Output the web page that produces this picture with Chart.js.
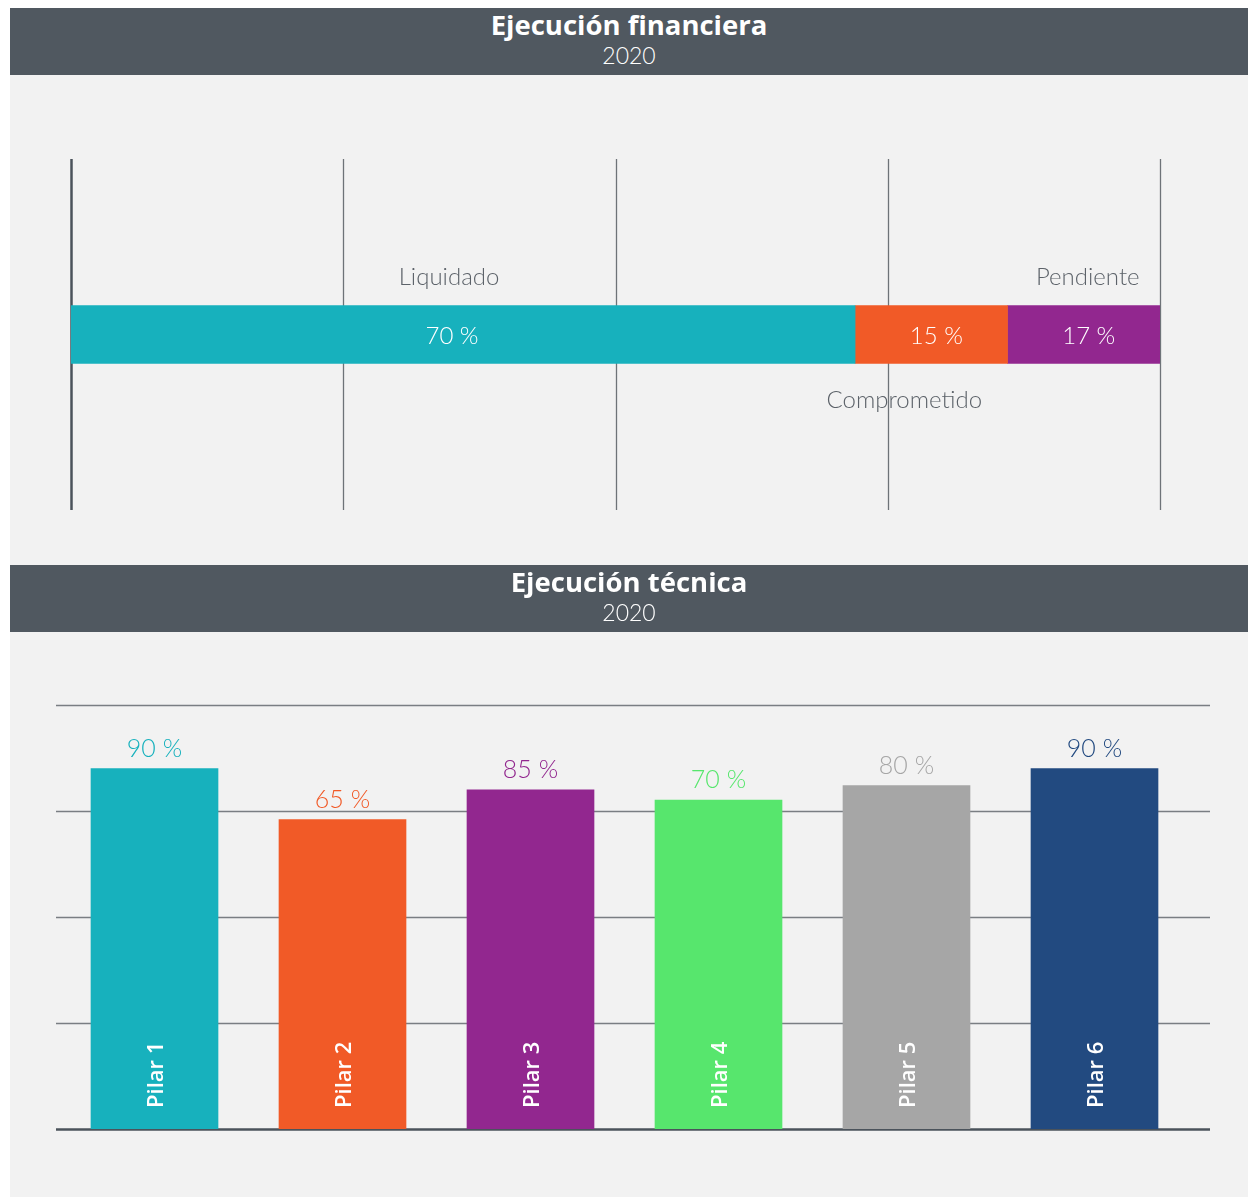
<!DOCTYPE html>
<html>
<head>
<meta charset="utf-8">
<script src="https://cdn.jsdelivr.net/npm/chart.js@4.4.1/dist/chart.umd.min.js"></script>
<style>
    body { margin: 0; background: #ffffff; font-family: Lato, 'Open Sans', sans-serif; }
    .panel { position: absolute; left: 10px; width: 1238px; background: #f2f2f2; }
    .header { position: absolute; left: 10px; width: 1238px; height: 67px; background: #505860; color: #ffffff; text-align: center; }
    .header .title { font-family: 'Open Sans', sans-serif; font-weight: 700; font-size: 27.5px; line-height: 32px; margin-top: 1px; }
    .header .year { font-size: 23px; line-height: 26px; font-weight: 300; margin-top: 1px; }
    .box { position: absolute; left: 10px; width: 1238px; }
</style>
</head>
<body>
<div class="panel" style="top:75px;height:1122px;"></div>
<div class="header" style="top:8px;"><div class="title">Ejecución financiera</div><div class="year">2020</div></div>
<div class="box" style="top:75px;height:490px;"><canvas id="finance-chart"></canvas></div>
<div class="header" style="top:565px;"><div class="title">Ejecución técnica</div><div class="year">2020</div></div>
<div class="box" style="top:632px;height:565px;"><canvas id="tech-chart"></canvas></div>

<script>
// Ejecución financiera
const financeNames = ['Liquidado', 'Comprometido', 'Pendiente'];
const financeValues = [72, 14, 14];
const financeLabels = ['70 %', '15 %', '17 %'];
const financeColors = ['#17b1bd', '#f15a27', '#92278f'];
const financeTicks = [0, 25, 50, 75, 100];

// Ejecución técnica
const pillars = ['Pilar 1', 'Pilar 2', 'Pilar 3', 'Pilar 4', 'Pilar 5', 'Pilar 6'];
const pillarValues = [85, 73, 80, 77.6, 81, 85];
const pillarLabels = ['90 %', '65 %', '85 %', '70 %', '80 %', '90 %'];
const pillarColors = ['#17b1bd', '#f15a27', '#92278f', '#57e66d', '#a6a6a6', '#224a80'];
const techTicks = [0, 25, 50, 75, 100];

const labelFont = '300 24px Lato, sans-serif';

const financeGrid = {
    id: 'financeGrid',
    beforeDatasetsDraw: function(chart) {
        const ctx = chart.ctx;
        const x = chart.scales.x;
        const area = chart.chartArea;
        ctx.save();
        financeTicks.forEach((t, i) => {
            const px = Math.round(x.getPixelForValue(t)) + 0.5;
            ctx.beginPath();
            ctx.strokeStyle = i === 0 ? '#4b535b' : '#6e7378';
            ctx.lineWidth = i === 0 ? 2.5 : 1.3;
            ctx.moveTo(px, area.top);
            ctx.lineTo(px, area.bottom);
            ctx.stroke();
        });
        ctx.restore();
    }
};

const financeText = {
    id: 'financeText',
    afterDatasetsDraw: function(chart) {
        const ctx = chart.ctx;
        ctx.save();
        ctx.font = labelFont;
        ctx.textAlign = 'center';
        ctx.textBaseline = 'middle';
        const nudge = [-14, -27, 4];
        chart.data.datasets.forEach((ds, i) => {
            const bar = chart.getDatasetMeta(i).data[0];
            const cx = (bar.x + bar.base) / 2;
            const top = bar.y - bar.height / 2;
            const bottom = bar.y + bar.height / 2;
            ctx.fillStyle = '#ffffff';
            ctx.fillText(financeLabels[i], cx + (i === 0 ? -11 : 5), bar.y + 2);
            ctx.fillStyle = '#5c6269';
            if (i === 1) {
                ctx.fillText(financeNames[i], cx + nudge[i], bottom + 37);
            } else {
                ctx.fillText(financeNames[i], cx + nudge[i], top - 28);
            }
        });
        ctx.restore();
    }
};

new Chart(document.getElementById('finance-chart'), {
    type: 'bar',
    data: {
        labels: ['2020'],
        datasets: financeNames.map((name, i) => ({
            label: name,
            data: [financeValues[i]],
            backgroundColor: financeColors[i],
            borderWidth: 0,
            barThickness: 58,
        })),
    },
    options: {
        indexAxis: 'y',
        responsive: true,
        maintainAspectRatio: false,
        animation: false,
        layout: { padding: { left: 61, right: 88, top: 84, bottom: 55 } },
        scales: {
            x: { stacked: true, min: 0, max: 100, display: false },
            y: { stacked: true, display: false },
        },
        plugins: {
            legend: { display: false },
            tooltip: { enabled: false },
        },
    },
    plugins: [financeGrid, financeText],
});

const techGrid = {
    id: 'techGrid',
    beforeDatasetsDraw: function(chart) {
        const ctx = chart.ctx;
        const y = chart.scales.y;
        const area = chart.chartArea;
        ctx.save();
        techTicks.forEach((t, i) => {
            const py = Math.round(y.getPixelForValue(t)) + 0.5;
            ctx.beginPath();
            ctx.strokeStyle = i === 0 ? '#4b535b' : '#7a7e83';
            ctx.lineWidth = i === 0 ? 2.5 : 1.3;
            ctx.moveTo(area.left - 4.5, py);
            ctx.lineTo(area.right + 21.5, py);
            ctx.stroke();
        });
        ctx.restore();
    }
};

const techText = {
    id: 'techText',
    afterDatasetsDraw: function(chart) {
        const ctx = chart.ctx;
        const meta = chart.getDatasetMeta(0);
        ctx.save();
        meta.data.forEach((bar, i) => {
            ctx.font = '300 25px Lato, sans-serif';
            ctx.textAlign = 'center';
            ctx.textBaseline = 'middle';
            ctx.fillStyle = pillarColors[i];
            ctx.fillText(pillarLabels[i], bar.x, bar.y - 20);

            ctx.save();
            ctx.translate(bar.x + 2, bar.base - 21);
            ctx.rotate(-Math.PI / 2);
            ctx.font = '600 22px "Open Sans", sans-serif';
            ctx.textAlign = 'left';
            ctx.textBaseline = 'middle';
            ctx.fillStyle = '#ffffff';
            ctx.fillText(pillars[i], 0, 0);
            ctx.restore();
        });
        ctx.restore();
    }
};

new Chart(document.getElementById('tech-chart'), {
    type: 'bar',
    data: {
        labels: pillars,
        datasets: [{
            data: pillarValues,
            backgroundColor: pillarColors,
            borderWidth: 0,
            barThickness: 127,
        }],
    },
    options: {
        responsive: true,
        maintainAspectRatio: false,
        animation: false,
        layout: { padding: { left: 50.5, right: 59.5, top: 73, bottom: 68 } },
        scales: {
            x: { display: false },
            y: { min: 0, max: 100, display: false },
        },
        plugins: {
            legend: { display: false },
            tooltip: { enabled: false },
        },
    },
    plugins: [techGrid, techText],
});
</script>
</body>
</html>
